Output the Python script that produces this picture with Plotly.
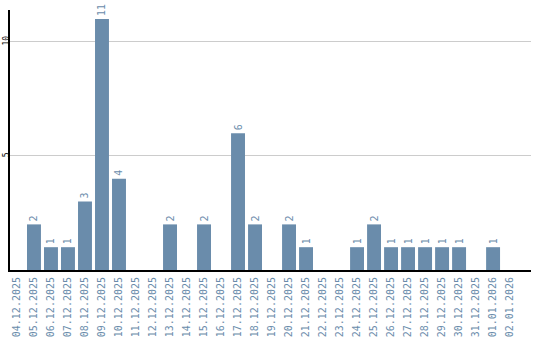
import plotly.graph_objects as go

dates = ["04.12.2025", "05.12.2025", "06.12.2025", "07.12.2025", "08.12.2025", "09.12.2025",
         "10.12.2025", "11.12.2025", "12.12.2025", "13.12.2025", "14.12.2025", "15.12.2025",
         "16.12.2025", "17.12.2025", "18.12.2025", "19.12.2025", "20.12.2025", "21.12.2025",
         "22.12.2025", "23.12.2025", "24.12.2025", "25.12.2025", "26.12.2025", "27.12.2025",
         "28.12.2025", "29.12.2025", "30.12.2025", "31.12.2025", "01.01.2026", "02.01.2026"]
counts = [0, 2, 1, 1, 3, 11, 4, 0, 0, 2, 0, 2, 0, 6, 2, 0, 2, 1, 0, 0, 1, 2, 1, 1, 1, 1, 1, 0, 1, 0]

labels = [str(v) if v > 0 else "" for v in counts]
color = "#6a8cab"
mono = "DejaVu Sans Mono"

fig = go.Figure(go.Bar(
    x=dates, y=counts, marker_color=color, marker_line_width=0,
    text=labels, textposition="outside", textangle=-90,
    textfont=dict(family=mono, size=10, color=color),
    cliponaxis=False,
))
fig.update_layout(
    width=540, height=340,
    margin=dict(l=10, r=9, t=10, b=70),
    paper_bgcolor="white", plot_bgcolor="white",
    bargap=0.18, showlegend=False,
    xaxis=dict(
        type="category", range=[-0.41, 30.23], tickangle=-90,
        tickfont=dict(family=mono, size=10, color=color),
        showline=True, linecolor="black", linewidth=2, showgrid=False,
        ticks="", ticklabelstandoff=1, automargin=False,
    ),
    yaxis=dict(
        range=[0, 11.4], tickvals=[5, 10], ticktext=["5", "10"], tickangle=-90,
        tickfont=dict(family=mono, size=8, color="black"),
        showline=True, linecolor="black", linewidth=2,
        showgrid=True, gridcolor="#cccccc", gridwidth=1, zeroline=False,
        ticks="", ticklabelstandoff=-4, automargin=False,
    ),
)
fig.write_html("out.html")
